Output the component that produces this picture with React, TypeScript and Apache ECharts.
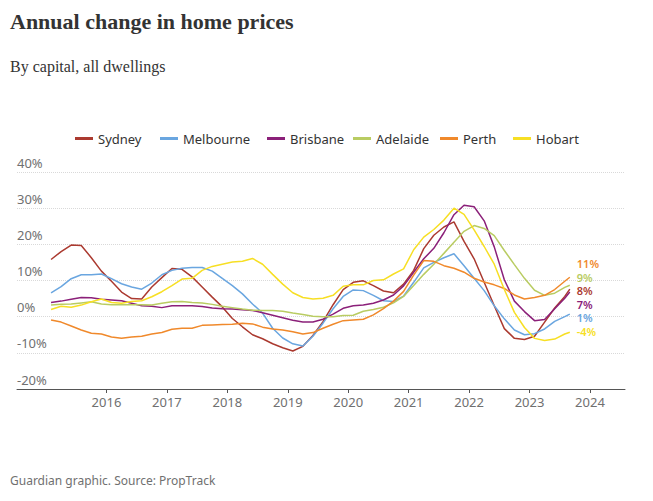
import React, { useEffect, useRef } from "react";
import * as echarts from "echarts";

const dates = [
  "2015-02", "2015-04", "2015-06", "2015-08", "2015-10", "2015-12",
  "2016-02", "2016-04", "2016-06", "2016-08", "2016-10", "2016-12",
  "2017-02", "2017-04", "2017-06", "2017-08", "2017-10", "2017-12",
  "2018-02", "2018-04", "2018-06", "2018-08", "2018-10", "2018-12",
  "2019-02", "2019-04", "2019-06", "2019-08", "2019-10", "2019-12",
  "2020-02", "2020-04", "2020-06", "2020-08", "2020-10", "2020-12",
  "2021-02", "2021-04", "2021-06", "2021-08", "2021-10", "2021-12",
  "2022-02", "2022-04", "2022-06", "2022-08", "2022-10", "2022-12",
  "2023-02", "2023-04", "2023-06", "2023-08", "2023-09",
];

const cities = ["Sydney", "Melbourne", "Brisbane", "Adelaide", "Perth", "Hobart"];

const sydney = [
  15.8, 18.0, 19.8, 19.7, 16.3, 12.6,
  9.8, 6.8, 5.0, 4.9, 8.2, 10.8,
  13.3, 13.1, 11.0, 8.2, 5.4, 2.7,
  -0.5, -2.8, -5.0, -6.1, -7.5, -8.6,
  -9.5, -8.2, -5.2, -1.4, 3.3, 7.5,
  9.5, 9.9, 8.6, 7.1, 6.6, 9.0,
  12.8, 18.8, 22.5, 24.8, 26.2, 20.8,
  16.0, 9.5, 3.0, -3.3, -6.0, -6.3,
  -5.4, -1.5, 2.4, 5.6, 7.6,
];
const melbourne = [
  6.6, 8.3, 10.5, 11.6, 11.6, 11.8,
  10.5, 9.1, 8.2, 7.6, 9.3, 11.6,
  12.8, 13.4, 13.6, 13.6, 12.6, 10.6,
  8.6, 6.3, 3.5, 1.0, -3.2, -5.9,
  -7.5, -8.1, -5.4, -1.8, 2.2, 5.6,
  7.4, 7.2, 5.9, 4.4, 4.2, 5.7,
  9.5, 13.5, 15.0, 16.3, 17.4, 14.1,
  10.6, 7.2, 3.0, -0.6, -3.7, -5.0,
  -4.7, -3.4, -1.3, 0.0, 0.7,
];
const brisbane = [
  3.9, 4.3, 4.8, 5.3, 5.2, 4.8,
  4.6, 4.4, 3.7, 3.0, 2.9, 2.5,
  3.0, 3.0, 3.0, 2.8, 2.4, 2.2,
  2.1, 1.9, 1.7, 1.1, 0.4, -0.3,
  -1.0, -1.5, -1.5, -0.7, 0.7, 2.3,
  3.0, 3.2, 3.7, 4.6, 6.0, 8.5,
  12.3, 16.0, 18.9, 23.2, 28.2, 30.8,
  30.4, 26.5, 19.3, 10.2, 4.3, 1.4,
  -1.1, -0.8, 2.2, 5.1, 6.8,
];
const adelaide = [
  3.2, 3.4, 3.5, 3.8, 4.1, 3.5,
  3.3, 3.3, 3.3, 3.3, 3.2, 3.7,
  4.1, 4.2, 3.9, 3.8, 3.4, 2.9,
  2.5, 2.1, 1.8, 1.7, 1.7, 1.5,
  1.0, 0.6, 0.1, 0.0, 0.0, 0.3,
  0.4, 1.5, 2.0, 2.6, 3.8, 5.6,
  8.6, 11.7, 14.5, 17.5, 20.6, 23.6,
  25.2, 24.4, 22.4, 18.3, 14.4, 10.6,
  7.3, 5.9, 6.5, 8.1, 8.7,
];
const perth = [
  -0.9, -1.5, -2.6, -3.7, -4.6, -4.8,
  -5.6, -6.0, -5.6, -5.4, -4.8, -4.4,
  -3.5, -3.2, -3.2, -2.4, -2.3, -2.2,
  -2.1, -1.8, -2.0, -2.9, -3.4, -3.7,
  -4.2, -4.8, -4.4, -3.2, -2.1, -1.1,
  -0.9, -0.7, 0.5, 2.2, 4.3, 7.0,
  11.5, 15.5, 15.3, 14.1, 13.4, 12.3,
  10.6, 9.6, 8.8, 7.8, 6.0, 4.9,
  5.3, 5.9, 7.5, 9.8, 10.9,
];
const hobart = [
  2.0, 2.9, 2.6, 3.2, 4.1, 4.9,
  3.9, 3.7, 4.2, 4.4, 5.5, 6.9,
  8.6, 10.4, 10.6, 12.8, 13.9, 14.5,
  15.1, 15.3, 16.1, 14.5, 11.7, 9.0,
  6.6, 5.3, 4.9, 5.1, 5.9, 8.4,
  8.8, 8.8, 10.0, 10.2, 11.8, 13.2,
  18.5, 22.0, 24.1, 26.7, 30.0, 28.3,
  24.0, 19.4, 14.5, 7.5, 1.2, -3.0,
  -6.0, -6.6, -6.2, -4.8, -4.3,
];

const endLabels = ["8%", "1%", "7%", "9%", "11%", "-4%"];
const yearTicks = [2016, 2017, 2018, 2019, 2020, 2021, 2022, 2023, 2024];

const values = [sydney, melbourne, brisbane, adelaide, perth, hobart];

// styles / layout
const colors = ["#ab3a30", "#6aa6e0", "#8b2079", "#b9cc62", "#f0892b", "#f7df24"];
const legendLeft = [75, 160, 267, 353, 440, 513];
const endLabelDy = [1.7, 3.8, 12.3, -7.9, -13.5, -0.7];
const xMin = 2014.52;
const xMax = 2024.58;
const sans = "'Noto Sans', sans-serif";

// "yyyy-mm" -> fractional year position on the axis
const toYear = (d: string) => {
  const [y, m] = d.split("-").map(Number);
  return y + (m - 1) / 12;
};

export default function App() {
  const ref = useRef<HTMLDivElement>(null);

  useEffect(() => {
    if (!ref.current) return;
    const chart = echarts.init(ref.current, undefined, { renderer: "svg" });

    const option: any = {
      animation: false,
      backgroundColor: "#ffffff",
      textStyle: { fontFamily: sans },
      graphic: [
        {
          type: "text",
          x: 10,
          y: 21,
          style: {
            text: "Annual change in home prices",
            font: "bold 22px 'Liberation Serif', serif",
            fill: "#333333",
            verticalAlign: "middle",
          },
        },
        {
          type: "text",
          x: 10,
          y: 66,
          style: {
            text: "By capital, all dwellings",
            font: "16px 'Liberation Serif', serif",
            fill: "#333333",
            verticalAlign: "middle",
          },
        },
        {
          type: "text",
          x: 10,
          y: 480,
          style: {
            text: "Guardian graphic. Source: PropTrack",
            font: "12px 'Noto Sans', sans-serif",
            fill: "#707070",
            verticalAlign: "middle",
          },
        },
      ],
      legend: cities.map((c, i) => ({
        data: [{ name: c, icon: "rect" }],
        left: legendLeft[i],
        top: 132,
        padding: 0,
        itemWidth: 18,
        itemHeight: 3,
        selectedMode: false,
        textStyle: { fontSize: 13, color: "#333333", fontFamily: sans },
      })),
      grid: { left: 17, right: 28, top: 172, bottom: 112, containLabel: false },
      xAxis: {
        type: "value",
        min: xMin,
        max: xMax,
        axisLine: { onZero: false, lineStyle: { color: "#555555", width: 1 } },
        axisTick: { show: true, length: 4, customValues: yearTicks, lineStyle: { color: "#555555" } },
        axisLabel: {
          customValues: yearTicks,
          formatter: (v: number) => String(Math.round(v)),
          color: "#707070",
          fontSize: 13,
          margin: 6,
          fontFamily: sans,
        },
        splitLine: { show: false },
      },
      yAxis: {
        type: "value",
        min: -20,
        max: 40,
        interval: 10,
        axisLine: { show: false },
        axisTick: { show: false },
        axisLabel: {
          inside: true,
          margin: 0,
          verticalAlign: "bottom",
          padding: [0, 0, 3, 0],
          formatter: "{value}%",
          color: "#707070",
          fontSize: 13,
          fontFamily: sans,
        },
        splitLine: { lineStyle: { color: "#d9d9d9", type: "dotted", width: 1 } },
      },
      series: cities.map((c, i) => ({
        name: c,
        type: "line",
        data: dates.map((d, j) => [toYear(d), values[i][j]]),
        showSymbol: false,
        symbol: "none",
        lineStyle: { width: 1.5, color: colors[i] },
        itemStyle: { color: colors[i] },
        endLabel: {
          show: true,
          formatter: endLabels[i],
          color: colors[i],
          fontSize: 11,
          fontWeight: 600,
          fontFamily: sans,
          lineHeight: 11,
          distance: 7,
          offset: [0, endLabelDy[i]],
        },
      })),
    };
    chart.setOption(option);
    return () => chart.dispose();
  }, []);

  return (
    <div
      ref={ref}
      style={{ position: "absolute", left: 0, top: 0, width: 653, height: 501, background: "#fff" }}
    />
  );
}
